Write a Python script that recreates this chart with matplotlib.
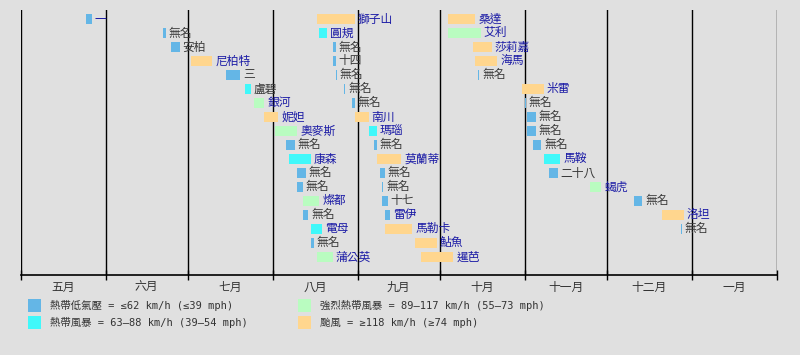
import pandas as pd
import matplotlib.pyplot as plt
import matplotlib.dates as mdates

plt.rcParams['font.family'] = ['Noto Sans CJK TC', 'DejaVu Sans']

# storms in timeline order (three columns of 18 rows)
names = ['一', '無名', '安柏', '尼柏特', '三', '盧碧', '銀河', '妮妲', '奧麥斯', '無名',
         '康森', '無名', '無名', '燦都', '無名', '電母', '無名', '蒲公英',
         '獅子山', '圓規', '無名', '十四', '無名', '無名', '無名', '南川', '瑪瑙', '無名',
         '莫蘭蒂', '無名', '無名', '十七', '雷伊', '馬勒卡', '鮎魚', '暹芭',
         '桑達', '艾利', '莎莉嘉', '海馬', '無名', '米雷', '無名', '無名', '無名', '無名',
         '馬鞍', '二十八', '蝎虎', '無名', '洛坦', '無名']
starts = ['2016-05-25', '2016-06-22', '2016-06-25', '2016-07-02', '2016-07-15', '2016-07-22',
          '2016-07-25', '2016-07-29', '2016-08-02', '2016-08-06', '2016-08-07', '2016-08-10',
          '2016-08-10', '2016-08-12', '2016-08-12', '2016-08-15', '2016-08-15', '2016-08-17',
          '2016-08-17', '2016-08-18', '2016-08-23', '2016-08-23', '2016-08-24', '2016-08-27',
          '2016-08-30', '2016-08-31', '2016-09-05', '2016-09-07', '2016-09-08', '2016-09-09',
          '2016-09-10', '2016-09-10', '2016-09-11', '2016-09-11', '2016-09-22', '2016-09-24',
          '2016-10-04', '2016-10-04', '2016-10-13', '2016-10-14', '2016-10-15', '2016-10-31',
          '2016-11-01', '2016-11-02', '2016-11-02', '2016-11-04', '2016-11-08', '2016-11-10',
          '2016-11-25', '2016-12-11', '2016-12-21', '2016-12-28']
ends = ['2016-05-27', '2016-06-23', '2016-06-28', '2016-07-10', '2016-07-20', '2016-07-24',
        '2016-07-29', '2016-08-03', '2016-08-10', '2016-08-09', '2016-08-15', '2016-08-13',
        '2016-08-12', '2016-08-18', '2016-08-14', '2016-08-19', '2016-08-16', '2016-08-23',
        '2016-08-31', '2016-08-21', '2016-08-24', '2016-08-24', '2016-08-24', '2016-08-27',
        '2016-08-31', '2016-09-05', '2016-09-08', '2016-09-08', '2016-09-17', '2016-09-11',
        '2016-09-10', '2016-09-12', '2016-09-13', '2016-09-21', '2016-09-30', '2016-10-06',
        '2016-10-14', '2016-10-16', '2016-10-20', '2016-10-22', '2016-10-15', '2016-11-08',
        '2016-11-01', '2016-11-05', '2016-11-05', '2016-11-07', '2016-11-14', '2016-11-13',
        '2016-11-29', '2016-12-14', '2016-12-29', '2016-12-28']
# 0 = TD, 1 = TS, 2 = STS, 3 = typhoon
cats = [0, 0, 0, 3, 0, 1, 2, 3, 2, 0, 1, 0, 0, 2, 0, 1, 0, 2,
        3, 1, 0, 0, 0, 0, 0, 3, 1, 0, 3, 0, 0, 0, 0, 3, 3, 3,
        3, 2, 3, 3, 0, 3, 0, 0, 0, 0, 1, 0, 2, 0, 3, 0]
# names shown as links (blue)
linked = ['一', '尼柏特', '銀河', '妮妲', '奧麥斯', '康森', '燦都', '電母', '蒲公英',
          '獅子山', '圓規', '南川', '瑪瑙', '莫蘭蒂', '雷伊', '馬勒卡', '鮎魚', '暹芭',
          '桑達', '艾利', '莎莉嘉', '海馬', '米雷', '馬鞍', '蝎虎', '洛坦']

months = ['五月', '六月', '七月', '八月', '九月', '十月', '十一月', '十二月', '一月']
month_starts = pd.date_range('2016-05-01', '2017-02-01', freq='MS')

cat_colors = ['#64b6e6', '#40f8fa', '#b9fcc0', '#ffd68e']
legend_labels = ['熱帶低氣壓 = ≤62 km/h (≤39 mph)',
                 '熱帶風暴 = 63–88 km/h (39–54 mph)',
                 '強烈熱帶風暴 = 89–117 km/h (55–73 mph)',
                 '颱風 = ≥118 km/h (≥74 mph)']

bg = '#e0e0e0'
fig = plt.figure(figsize=(8, 3.55), dpi=100, facecolor=bg)
ax = fig.add_axes([0.0259, 0.2254, 0.9449, 0.7465], facecolor=bg)

s = pd.to_datetime(starts)
e = pd.to_datetime(ends)
rows_per_col = 18
for i, name in enumerate(names):
    row = i % rows_per_col
    x0 = mdates.date2num(s[i])
    w = max(mdates.date2num(e[i]) - x0, 0.45)
    ax.barh(row, w, left=x0, height=0.72, color=cat_colors[cats[i]], linewidth=0, zorder=3)
    ax.annotate(name, (x0 + w, row), xytext=(3, 0), textcoords='offset pixels',
                va='center', ha='left', fontsize=8.5, zorder=4,
                color='#1c1ca6' if name in linked else '#3a3a3a')

ax.set_xlim(mdates.date2num(month_starts[0]), mdates.date2num(month_starts[-1]))
ax.set_ylim(18.29, -0.643)

# month boundaries
for d in month_starts:
    ax.axvline(mdates.date2num(d), color='black', lw=1, zorder=1)

ax.set_xticks(mdates.date2num(month_starts))
ax.set_xticklabels([])
ax.tick_params(axis='x', which='major', direction='inout', length=7, width=1, color='black')
mids = [mdates.date2num(a) + (mdates.date2num(b) - mdates.date2num(a)) / 2
        for a, b in zip(month_starts[:-1], month_starts[1:])]
ax.set_xticks(mids, minor=True)
ax.set_xticklabels(months, minor=True, fontsize=8.5, color='#333333')
ax.tick_params(axis='x', which='minor', length=0, pad=4)
ax.set_yticks([])
for side in ['top', 'left', 'right']:
    ax.spines[side].set_visible(False)
ax.spines['bottom'].set_linewidth(1.2)

# legend
leg_x = [28, 28, 298, 298]
leg_y = [299, 316, 299, 316]
for i, lab in enumerate(legend_labels):
    fig.patches.append(plt.Rectangle((leg_x[i] / 800, 1 - (leg_y[i] + 13) / 355), 13 / 800, 13 / 355,
                                     transform=fig.transFigure, color=cat_colors[i], lw=0))
    fig.text((leg_x[i] + 22) / 800, 1 - (leg_y[i] + 6.5) / 355, lab, va='center', ha='left',
             fontsize=7.5, color='#333333', family=['DejaVu Sans Mono', 'Noto Sans CJK TC'])

fig.savefig('out.png', dpi=100, facecolor=bg)
